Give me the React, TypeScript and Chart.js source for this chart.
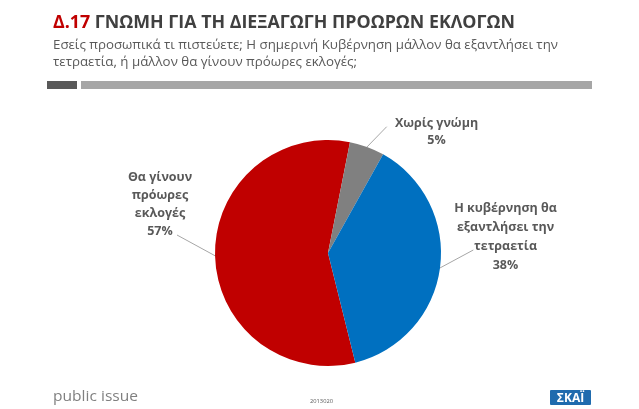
import React, { useEffect, useLayoutEffect, useRef } from "react";
import { Chart, registerables } from "chart.js";

Chart.register(...registerables);

// ---- Data ----
const categories = [
  "Θα γίνουν πρόωρες εκλογές",
  "Χωρίς γνώμη",
  "Η κυβέρνηση θα εξαντλήσει την τετραετία",
];
const labelLines = [
  ["Θα γίνουν", "πρόωρες", "εκλογές"],
  ["Χωρίς γνώμη"],
  ["Η κυβέρνηση θα", "εξαντλήσει την", "τετραετία"],
];
const values = [57, 5, 38];
const sliceColors = ["#C00000", "#808080", "#0070C0"];

const titleCode = "Δ.17";
const titleText = "ΓΝΩΜΗ ΓΙΑ ΤΗ ΔΙΕΞΑΓΩΓΗ ΠΡΟΩΡΩΝ ΕΚΛΟΓΩΝ";
const subtitleLines = [
  "Εσείς προσωπικά τι πιστεύετε; Η σημερινή Κυβέρνηση μάλλον θα εξαντλήσει την",
  "τετραετία, ή μάλλον θα γίνουν πρόωρες εκλογές;",
];
const footerLeft = "public issue";
const footerCode = "2013020";
const logoText = "ΣΚΑΪ";

// ---- Label layout (style) ----
const labelLayout = [
  { cx: 160, y0: 177, dy: 18.3, lx: 177, ly: 235 },
  { cx: 436.5, y0: 123.3, dy: 17.4, lx: 386.7, ly: 126.7 },
  { cx: 505.5, y0: 208.3, dy: 19, lx: 473.3, ly: 250 },
];

function Fit({ width, style, children }: any) {
  const ref = useRef<HTMLSpanElement>(null);
  useLayoutEffect(() => {
    const fit = () => {
      const el = ref.current;
      if (!el) return;
      el.style.transform = "none";
      const w = el.getBoundingClientRect().width;
      if (w > 0) el.style.transform = `scaleX(${width / w})`;
    };
    fit();
    (document as any).fonts?.ready?.then(fit);
  }, [width]);
  return (
    <span
      ref={ref}
      style={{
        display: "inline-block",
        whiteSpace: "nowrap",
        transformOrigin: "left top",
        ...style,
      }}
    >
      {children}
    </span>
  );
}

const labelPlugin = {
  id: "pieLabels",
  afterDatasetsDraw(chart: any) {
    const ctx = chart.ctx;
    const meta = chart.getDatasetMeta(0);
    ctx.save();
    meta.data.forEach((arc: any, i: number) => {
      const lay = labelLayout[i];
      const mid = (arc.startAngle + arc.endAngle) / 2;
      const sx = arc.x + Math.cos(mid) * arc.outerRadius;
      const sy = arc.y + Math.sin(mid) * arc.outerRadius;
      ctx.strokeStyle = "#A6A6A6";
      ctx.lineWidth = 1;
      ctx.beginPath();
      ctx.moveTo(sx, sy);
      ctx.lineTo(lay.lx, lay.ly);
      ctx.stroke();
      const lines = [...labelLines[i], `${values[i]}%`];
      ctx.fillStyle = "#595959";
      ctx.font = "bold 12.5px 'Open Sans', 'Noto Sans', sans-serif";
      ctx.textAlign = "center";
      ctx.textBaseline = "middle";
      lines.forEach((t, k) => {
        ctx.fillText(t, lay.cx, lay.y0 + k * lay.dy);
      });
    });
    ctx.restore();
  },
};

export default function App() {
  const canvasRef = useRef<HTMLCanvasElement>(null);

  useEffect(() => {
    const canvas = canvasRef.current;
    if (!canvas) return;
    const chart = new Chart(canvas, {
      type: "pie",
      data: {
        labels: categories,
        datasets: [
          {
            data: values,
            backgroundColor: sliceColors,
            borderWidth: 0,
          },
        ],
      },
      options: {
        responsive: false,
        animation: false,
        rotation: 166,
        layout: { padding: { top: 140, bottom: 43, left: 215, right: 198 } },
        plugins: {
          legend: { display: false },
          tooltip: { enabled: false },
          title: { display: false },
        },
      },
      plugins: [labelPlugin],
    });
    return () => chart.destroy();
  }, []);

  const font = "'Open Sans', 'Noto Sans', sans-serif";

  return (
    <div
      style={{
        position: "absolute",
        left: 0,
        top: 0,
        width: 639,
        height: 409,
        background: "#FFFFFF",
        overflow: "hidden",
        fontFamily: font,
      }}
    >
      <canvas
        ref={canvasRef}
        width={639}
        height={409}
        style={{ position: "absolute", left: 0, top: 0, width: 639, height: 409 }}
      />
      <div style={{ position: "absolute", left: 53, top: 9, lineHeight: "24px", fontSize: 18, fontWeight: 700 }}>
        <Fit width={462}>
          <span style={{ color: "#C00000" }}>{titleCode}</span>
          <span style={{ color: "#404040" }}> {titleText}</span>
        </Fit>
      </div>
      {subtitleLines.map((t, i) => (
        <div
          key={i}
          style={{
            position: "absolute",
            left: 53,
            top: 35.5 + i * 17,
            lineHeight: "17px",
            fontSize: 13,
            color: "#595959",
          }}
        >
          <Fit width={i === 0 ? 505 : 304}>{t}</Fit>
        </div>
      ))}
      <div style={{ position: "absolute", left: 47, top: 81, width: 30, height: 8, background: "#595959" }} />
      <div style={{ position: "absolute", left: 81, top: 81, width: 511, height: 8, background: "#A6A6A6" }} />
      <div style={{ position: "absolute", left: 53, top: 386, lineHeight: "19px", fontSize: 14, color: "#808080" }}>
        <Fit width={85}>{footerLeft}</Fit>
      </div>
      <div style={{ position: "absolute", left: 310, top: 397, lineHeight: "9px", fontSize: 6, color: "#595959" }}>
        <Fit width={23}>{footerCode}</Fit>
      </div>
      <div
        style={{
          position: "absolute",
          left: 550,
          top: 390,
          width: 41,
          height: 15,
          background: "#1F6BAE",
          borderRadius: 1,
          color: "#FFFFFF",
          fontWeight: 700,
          fontSize: 12,
          lineHeight: "15px",
          textAlign: "center",
        }}
      >
        {logoText}
      </div>
    </div>
  );
}
